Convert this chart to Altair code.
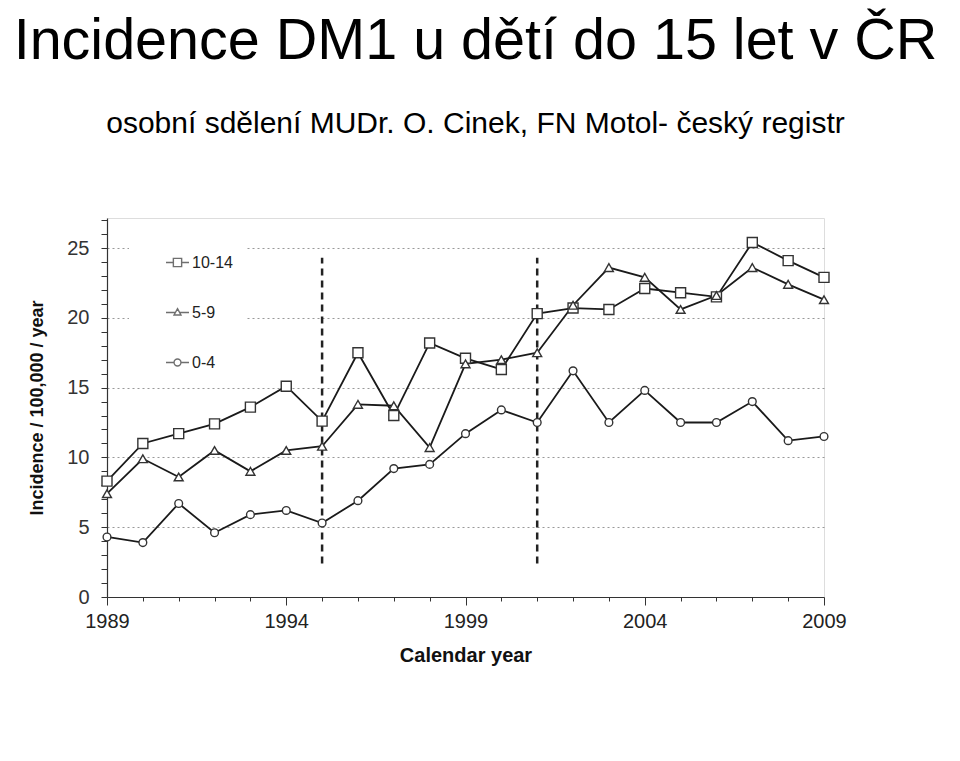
import altair as alt
import pandas as pd

years = list(range(1989, 2010))
inc_10_14 = [8.3, 11.0, 11.7, 12.4, 13.6, 15.1, 12.6, 17.5, 13.0, 18.2, 17.1,
             16.3, 20.3, 20.7, 20.6, 22.1, 21.8, 21.5, 25.4, 24.1, 22.9]
inc_5_9 = [7.4, 9.9, 8.6, 10.5, 9.0, 10.5, 10.8, 13.8, 13.7, 10.7, 16.7,
           17.0, 17.5, 20.9, 23.6, 22.9, 20.6, 21.6, 23.6, 22.4, 21.3]
inc_0_4 = [4.3, 3.9, 6.7, 4.6, 5.9, 6.2, 5.3, 6.9, 9.2, 9.5, 11.7,
           13.4, 12.5, 16.2, 12.5, 14.8, 12.5, 12.5, 14.0, 11.2, 11.5]
groups = ["10-14", "5-9", "0-4"]
y_ticks = list(range(0, 28))
vline_years = [1995, 2001]
vline_low = [2.4, 2.4]
vline_high = [24.3, 24.3]

rows = []
for g, vals in zip(groups, [inc_10_14, inc_5_9, inc_0_4]):
    for yr, v in zip(years, vals):
        rows.append({"year": yr, "value": v, "group": g})
df = pd.DataFrame(rows)
vdf = pd.DataFrame({"year": vline_years, "lo": vline_low, "hi": vline_high})

FONT = "Liberation Sans"
xscale = alt.Scale(domain=[1989, 2009], nice=False, zero=False)
yscale = alt.Scale(domain=[0, 27.15], nice=False)

xaxis = alt.Axis(
    values=years, tickCount=200, format="d", title="Calendar year",
    labelExpr="(datum.value - 1989) % 5 === 0 ? datum.label : ''",
    labelFlush=False,
    grid=False, labelFontSize=20, labelFont=FONT, labelColor="#222",
    labelPadding=6, tickSize={"expr": "(datum.value - 1989) % 5 === 0 ? 8 : 4"},
    tickColor="#333", domainColor="#333", domainWidth=1.2,
    titleFont=FONT, titleFontSize=20, titleFontWeight="bold", titleColor="#111",
    titlePadding=14, labelOverlap=False,
)
yaxis = alt.Axis(
    values=y_ticks, tickCount=200, format="d", title="Incidence / 100,000 / year",
    labelExpr="datum.value % 5 === 0 ? datum.label : ''",
    labelFlush=False,
    grid=True, gridColor="#999", gridDash=[2, 3], gridWidth=1,
    gridOpacity={"expr": "datum.value % 5 === 0 && datum.value > 0 ? 1 : 0"},
    labelFontSize=20, labelFont=FONT, labelColor="#333", labelPadding=12,
    tickSize=6, tickColor="#333", domainColor="#333", domainWidth=1.2,
    titleFont=FONT, titleFontSize=18, titleFontWeight="bold", titleColor="#111",
    titlePadding=20, labelOverlap=False,
)

base = alt.Chart(df)

lines = base.mark_line(color="#1a1a1a", strokeWidth=1.8).encode(
    x=alt.X("year:Q", scale=xscale, axis=xaxis),
    y=alt.Y("value:Q", scale=yscale, axis=yaxis),
    detail="group:N",
)

points = base.mark_point(filled=False, fill="white", fillOpacity=1,
                         stroke="#333", strokeWidth=1.4, opacity=1).encode(
    x="year:Q",
    y="value:Q",
    shape=alt.Shape("group:N", scale=alt.Scale(domain=groups,
                    range=["square", "triangle-up", "circle"]), legend=None),
    size=alt.Size("group:N", scale=alt.Scale(domain=groups, range=[100, 60, 70]),
                  legend=None),
)

sym_square = "M-1,0H-0.36M0.36,0H1M-0.36,-0.36H0.36V0.36H-0.36Z"
sym_tri = "M-1,0H-0.18M0.18,0H1M0,-0.33L0.3,0.22H-0.3Z"
sym_circ = "M-1,0H-0.3M0.3,0H1M0.3,0A0.3,0.3 0 1,1 -0.3,0A0.3,0.3 0 1,1 0.3,0Z"

legend_layer = base.transform_filter("false").mark_point(
    filled=False, stroke="#333").encode(
    x="year:Q",
    y="value:Q",
    shape=alt.Shape("group:N", scale=alt.Scale(domain=groups,
                    range=[sym_square, sym_tri, sym_circ]),
                    legend=alt.Legend(
                        title=None, orient="none", legendX=22, legendY=20,
                        padding=12, fillColor="white", symbolSize=529,
                        symbolStrokeColor="#333", symbolFillColor="white",
                        symbolStrokeWidth=1.4, symbolOffset=24,
                        labelFont=FONT, labelFontSize=16, labelColor="#222",
                        labelOffset=2, rowPadding=29)),
)

vlines = alt.Chart(vdf).mark_rule(color="#222", strokeWidth=2.5,
                                  strokeDash=[7, 5]).encode(
    x="year:Q", y="lo:Q", y2="hi:Q")

chart = alt.layer(vlines, lines, points, legend_layer).resolve_scale(
    shape="independent", size="independent"
).properties(
    width=717, height=379,
    autosize=alt.AutoSizeParams(type="none"),
    padding={"left": 99, "top": 210, "right": 128, "bottom": 140},
    title=alt.TitleParams(
        text="Incidence DM1 u dětí do 15 let v ČR",
        subtitle="osobní sdělení MUDr. O. Cinek, FN Motol- český registr",
        font=FONT, fontSize=57.5, fontWeight="normal", color="black",
        subtitleFont=FONT, subtitleFontSize=30, subtitleColor="black",
        anchor="middle", offset=70, subtitlePadding=38, dx=10,
    ),
).configure_view(stroke=None).configure(background="white")

chart.save("out.html", embed_options={"renderer": "svg", "actions": False})
